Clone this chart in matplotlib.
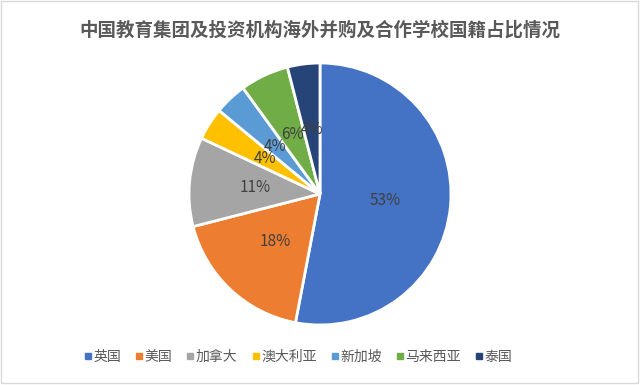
import matplotlib.pyplot as plt
from matplotlib.patches import Rectangle
from matplotlib.lines import Line2D

plt.rcParams['font.family'] = ['Noto Sans CJK SC', 'DejaVu Sans']

# data
countries = ["英国", "美国", "加拿大", "澳大利亚", "新加坡", "马来西亚", "泰国"]
shares = [53, 18, 11, 4, 4, 6, 4]
colors = ["#4472C4", "#ED7D31", "#A5A5A5", "#FFC000", "#5B9BD5", "#70AD47", "#264478"]
title = "中国教育集团及投资机构海外并购及合作学校国籍占比情况"

fig = plt.figure(figsize=(6.4, 3.85), dpi=100)
fig.patches.append(Rectangle((0.002, 0.004), 0.995, 0.993, transform=fig.transFigure,
                             fill=False, edgecolor="#D9D9D9", linewidth=1))

# pie centre ~ (320,194) px, radius ~131 px
ax = fig.add_axes([(320 - 131) / 640, 1 - (194 + 131) / 385, 262 / 640, 262 / 385])
wedges, texts, autotexts = ax.pie(shares, colors=colors, startangle=90, counterclock=False,
                                  autopct="%.0f%%", pctdistance=0.5,
                                  wedgeprops=dict(edgecolor="white", linewidth=2),
                                  textprops=dict(color="#404040", fontsize=11))
ax.set_xlim(-1, 1)
ax.set_ylim(-1, 1)
ax.set_aspect("equal")

fig.text(0.5, 1 - 30 / 385, title, ha="center", va="center", fontsize=13.3,
         color="#595959", fontweight="bold")

handles = [Line2D([0], [0], marker="s", linestyle="none", markersize=4,
                  markerfacecolor=c, markeredgecolor=c) for c in colors]
fig.legend(handles, countries, loc="center", bbox_to_anchor=(298 / 640, 1 - 357 / 385),
           ncol=len(countries), frameon=False, fontsize=10, labelcolor="#595959",
           handletextpad=0.1, columnspacing=1.0, handlelength=0.6)

fig.savefig("out.png", dpi=100)
